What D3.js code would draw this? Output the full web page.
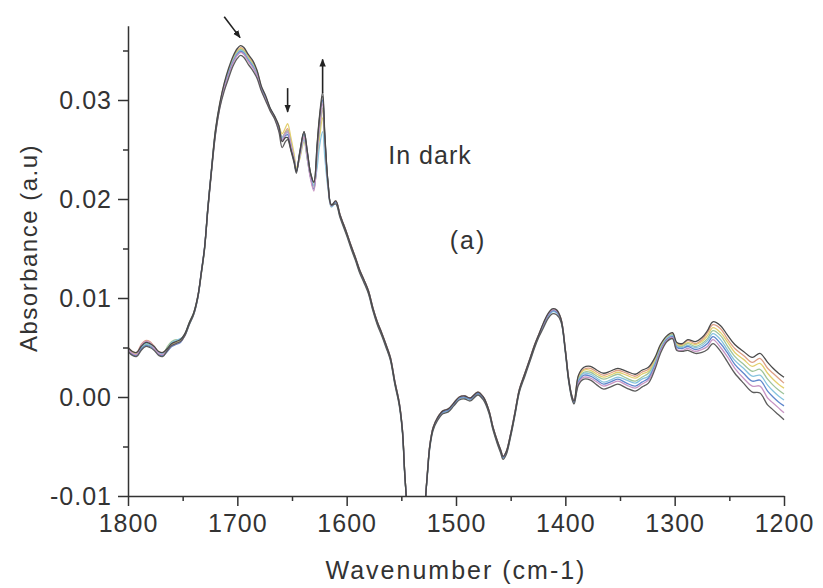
<!DOCTYPE html>
<html>
<head>
<meta charset="utf-8">
<title>Absorbance in dark (a)</title>
<script src="https://d3js.org/d3.v7.min.js"></script>
<style>
  body { margin: 0; background: #fff; }
  svg text { font-family: "Liberation Sans", Arial, sans-serif; fill: #333; }
</style>
</head>
<body>
<svg id="chart" width="823" height="588"></svg>
<script>
// wavenumbers (cm-1), shared by all spectra
const wavenumber = [
  1800,1796,1792,1788,1784,1780,1776,1772,1768,1764,1760,1756,1752,
  1748,1744,1740,1736,1733,1730,
  1727,1724,1720,1716,1712,1708,1704,1700,1697,1694,1690,1686,1682,1678,1674,1670,1666,
  1662,1659,1656,1654,1651,1648,1646,1643,1639,1636,1633,1630,1627,1625,1622,1620,1617,1614,
  1610,1606,1600,1596,1592,1588,1584,1580,1576,1572,1568,1564,1560,1556,1552,1549,1547,1545,1543,1537,
  1530,1528,1526,1524,1521,1517,1512,1507,1502,1497,1492,1487,1480,1475,1470,1466,1462,1459,1457,1454,
  1450,1446,1442,1437,1432,1428,1424,1420,1416,1412,1408,1404,1400,1397,1394,1392,
  1388,1383,1377,1371,1365,1359,1352,1344,1336,1330,1324,1318,1313,1307,1302,1298,1293,1288,1281,1275,
  1270,1265,1258,1252,1245,1237,1229,1222,1215,1210,1205,1200
];

// absorbance (a.u) of each spectrum
const spectrum1 = [
  50e-4,46e-4,45e-4,51e-4,55e-4,54e-4,51e-4,46e-4,45e-4,49e-4,54e-4,56e-4,58e-4,
  64e-4,75e-4,85e-4,103e-4,126e-4,151e-4,
  191e-4,226e-4,270e-4,297e-4,317e-4,332e-4,344e-4,352e-4,355e-4,353e-4,346e-4,340e-4,330e-4,314e-4,304e-4,292e-4,284e-4,
  274e-4,258e-4,262e-4,262e-4,250e-4,238e-4,228e-4,246e-4,268e-4,248e-4,226e-4,217e-4,256e-4,282e-4,308e-4,266e-4,216e-4,194e-4,
  198e-4,184e-4,166e-4,153e-4,141e-4,128e-4,118e-4,107e-4,90e-4,76e-4,65e-4,53e-4,40e-4,16e-4,-5e-4,-33e-4,-74e-4,-110e-4,-160e-4,-260e-4,
  -150e-4,-105e-4,-74e-4,-49e-4,-31e-4,-21e-4,-14e-4,-12e-4,-6e-4,0,1e-4,-1e-4,5e-4,0,-13e-4,-31e-4,-45e-4,-54e-4,-60e-4,-55e-4,
  -37e-4,-15e-4,8e-4,24e-4,40e-4,53e-4,64e-4,75e-4,84e-4,89e-4,88e-4,79e-4,48e-4,19e-4,1e-4,-4e-4,
  22e-4,30e-4,31e-4,27e-4,24e-4,26e-4,29e-4,26e-4,23e-4,27e-4,30e-4,40e-4,53e-4,62e-4,65e-4,55e-4,54e-4,58e-4,56e-4,60e-4,
  67e-4,76e-4,72e-4,63e-4,53e-4,46e-4,40e-4,44e-4,35e-4,29e-4,24e-4,20e-4
];
const spectrum2 = [
  50e-4,46e-4,45e-4,53e-4,57e-4,56e-4,51e-4,46e-4,45e-4,49e-4,54e-4,56e-4,58e-4,
  63e-4,74e-4,84e-4,102e-4,125e-4,150e-4,
  190e-4,225e-4,269e-4,296e-4,316e-4,330e-4,342e-4,350e-4,353e-4,351e-4,344e-4,338e-4,329e-4,313e-4,303e-4,291e-4,283e-4,
  273e-4,263e-4,268e-4,271e-4,258e-4,242e-4,230e-4,242e-4,262e-4,242e-4,222e-4,210e-4,240e-4,266e-4,290e-4,255e-4,213e-4,193e-4,
  197e-4,183e-4,165e-4,152e-4,140e-4,127e-4,117e-4,106e-4,89e-4,75e-4,64e-4,52e-4,39e-4,15e-4,-6e-4,-34e-4,-75e-4,-110e-4,-160e-4,-260e-4,
  -150e-4,-105e-4,-75e-4,-50e-4,-32e-4,-22e-4,-15e-4,-13e-4,-7e-4,-1e-4,0,-2e-4,4e-4,-1e-4,-14e-4,-32e-4,-46e-4,-55e-4,-61e-4,-56e-4,
  -38e-4,-16e-4,7e-4,23e-4,39e-4,52e-4,63e-4,73e-4,82e-4,87e-4,86e-4,78e-4,47e-4,18e-4,0,-5e-4,
  21e-4,28e-4,29e-4,25e-4,22e-4,24e-4,27e-4,24e-4,21e-4,25e-4,28e-4,38e-4,52e-4,61e-4,64e-4,54e-4,53e-4,57e-4,54e-4,58e-4,
  65e-4,73e-4,69e-4,59e-4,49e-4,42e-4,35e-4,39e-4,29e-4,24e-4,19e-4,14e-4
];
const spectrum3 = [
  49e-4,45e-4,44e-4,50e-4,54e-4,53e-4,50e-4,45e-4,44e-4,48e-4,53e-4,55e-4,57e-4,
  63e-4,74e-4,84e-4,102e-4,125e-4,150e-4,
  190e-4,225e-4,268e-4,295e-4,315e-4,329e-4,341e-4,349e-4,352e-4,350e-4,343e-4,337e-4,328e-4,312e-4,302e-4,291e-4,283e-4,
  274e-4,266e-4,272e-4,276e-4,262e-4,245e-4,232e-4,240e-4,258e-4,240e-4,224e-4,216e-4,238e-4,260e-4,282e-4,250e-4,212e-4,192e-4,
  198e-4,184e-4,166e-4,153e-4,141e-4,128e-4,118e-4,107e-4,90e-4,76e-4,65e-4,53e-4,40e-4,16e-4,-5e-4,-33e-4,-74e-4,-110e-4,-160e-4,-260e-4,
  -150e-4,-105e-4,-74e-4,-49e-4,-31e-4,-21e-4,-14e-4,-12e-4,-6e-4,0,1e-4,-1e-4,5e-4,0,-13e-4,-31e-4,-45e-4,-54e-4,-60e-4,-55e-4,
  -37e-4,-15e-4,8e-4,24e-4,40e-4,53e-4,64e-4,74e-4,83e-4,88e-4,87e-4,79e-4,48e-4,19e-4,1e-4,-4e-4,
  19e-4,27e-4,27e-4,23e-4,20e-4,22e-4,25e-4,22e-4,19e-4,23e-4,26e-4,37e-4,51e-4,60e-4,63e-4,53e-4,52e-4,55e-4,53e-4,56e-4,
  62e-4,70e-4,65e-4,56e-4,45e-4,38e-4,31e-4,34e-4,24e-4,18e-4,13e-4,9e-4
];
const spectrum4 = [
  48e-4,44e-4,43e-4,49e-4,53e-4,52e-4,49e-4,44e-4,43e-4,51e-4,56e-4,58e-4,56e-4,
  63e-4,75e-4,85e-4,102e-4,124e-4,149e-4,
  190e-4,225e-4,268e-4,295e-4,314e-4,328e-4,340e-4,348e-4,351e-4,349e-4,342e-4,336e-4,327e-4,312e-4,302e-4,291e-4,283e-4,
  271e-4,262e-4,267e-4,269e-4,256e-4,240e-4,229e-4,244e-4,264e-4,244e-4,224e-4,213e-4,245e-4,268e-4,292e-4,256e-4,214e-4,193e-4,
  197e-4,183e-4,165e-4,152e-4,140e-4,127e-4,117e-4,106e-4,89e-4,75e-4,64e-4,52e-4,39e-4,15e-4,-6e-4,-34e-4,-75e-4,-110e-4,-160e-4,-260e-4,
  -150e-4,-105e-4,-75e-4,-50e-4,-32e-4,-22e-4,-15e-4,-13e-4,-7e-4,-1e-4,0,-2e-4,4e-4,-1e-4,-14e-4,-32e-4,-46e-4,-55e-4,-61e-4,-56e-4,
  -38e-4,-16e-4,7e-4,23e-4,39e-4,52e-4,63e-4,73e-4,82e-4,87e-4,86e-4,78e-4,47e-4,18e-4,0,-5e-4,
  18e-4,25e-4,25e-4,21e-4,18e-4,20e-4,23e-4,19e-4,16e-4,20e-4,24e-4,35e-4,49e-4,60e-4,63e-4,52e-4,51e-4,54e-4,51e-4,54e-4,
  59e-4,67e-4,62e-4,52e-4,41e-4,33e-4,26e-4,28e-4,18e-4,12e-4,7e-4,3e-4
];
const spectrum5 = [
  49e-4,43e-4,42e-4,50e-4,54e-4,53e-4,50e-4,45e-4,44e-4,48e-4,55e-4,57e-4,59e-4,
  62e-4,73e-4,83e-4,101e-4,125e-4,150e-4,
  190e-4,225e-4,268e-4,295e-4,313e-4,327e-4,339e-4,347e-4,350e-4,348e-4,341e-4,335e-4,326e-4,312e-4,302e-4,291e-4,283e-4,
  270e-4,262e-4,266e-4,267e-4,255e-4,240e-4,229e-4,242e-4,260e-4,240e-4,222e-4,214e-4,232e-4,252e-4,268e-4,242e-4,210e-4,192e-4,
  196e-4,182e-4,164e-4,151e-4,139e-4,126e-4,116e-4,105e-4,88e-4,74e-4,63e-4,51e-4,38e-4,14e-4,-7e-4,-35e-4,-76e-4,-110e-4,-160e-4,-260e-4,
  -150e-4,-105e-4,-76e-4,-51e-4,-33e-4,-23e-4,-16e-4,-14e-4,-8e-4,-2e-4,-1e-4,-3e-4,3e-4,-2e-4,-15e-4,-33e-4,-47e-4,-56e-4,-62e-4,-57e-4,
  -39e-4,-17e-4,6e-4,22e-4,38e-4,51e-4,62e-4,72e-4,81e-4,86e-4,85e-4,77e-4,46e-4,17e-4,-1e-4,-6e-4,
  17e-4,24e-4,23e-4,19e-4,15e-4,17e-4,20e-4,17e-4,14e-4,18e-4,21e-4,34e-4,48e-4,59e-4,62e-4,51e-4,50e-4,52e-4,50e-4,52e-4,
  57e-4,64e-4,58e-4,48e-4,37e-4,29e-4,21e-4,22e-4,12e-4,6e-4,1e-4,-3e-4
];
const spectrum6 = [
  47e-4,43e-4,42e-4,48e-4,52e-4,51e-4,48e-4,43e-4,42e-4,46e-4,51e-4,53e-4,55e-4,
  63e-4,74e-4,84e-4,102e-4,126e-4,151e-4,
  190e-4,225e-4,267e-4,294e-4,312e-4,326e-4,338e-4,346e-4,349e-4,347e-4,340e-4,334e-4,325e-4,311e-4,301e-4,291e-4,283e-4,
  271e-4,260e-4,264e-4,265e-4,253e-4,238e-4,227e-4,245e-4,266e-4,246e-4,222e-4,210e-4,250e-4,275e-4,300e-4,262e-4,215e-4,193e-4,
  197e-4,183e-4,165e-4,152e-4,140e-4,127e-4,117e-4,106e-4,89e-4,75e-4,64e-4,52e-4,39e-4,15e-4,-6e-4,-34e-4,-75e-4,-110e-4,-160e-4,-260e-4,
  -150e-4,-105e-4,-75e-4,-50e-4,-32e-4,-22e-4,-15e-4,-13e-4,-7e-4,-1e-4,0,-2e-4,4e-4,-1e-4,-14e-4,-32e-4,-46e-4,-55e-4,-61e-4,-56e-4,
  -38e-4,-16e-4,7e-4,23e-4,39e-4,52e-4,63e-4,73e-4,82e-4,87e-4,86e-4,78e-4,47e-4,18e-4,0,-5e-4,
  15e-4,22e-4,21e-4,17e-4,13e-4,15e-4,18e-4,14e-4,11e-4,15e-4,19e-4,32e-4,47e-4,58e-4,61e-4,50e-4,49e-4,51e-4,48e-4,50e-4,
  54e-4,61e-4,54e-4,45e-4,33e-4,24e-4,16e-4,17e-4,6e-4,0,-5e-4,-9e-4
];
const spectrum7 = [
  48e-4,44e-4,43e-4,52e-4,56e-4,55e-4,49e-4,44e-4,43e-4,47e-4,52e-4,54e-4,56e-4,
  62e-4,74e-4,84e-4,102e-4,125e-4,150e-4,
  189e-4,224e-4,266e-4,293e-4,312e-4,325e-4,337e-4,345e-4,348e-4,346e-4,339e-4,333e-4,325e-4,310e-4,300e-4,290e-4,282e-4,
  269e-4,259e-4,266e-4,268e-4,255e-4,240e-4,228e-4,243e-4,263e-4,242e-4,220e-4,208e-4,246e-4,272e-4,296e-4,260e-4,214e-4,193e-4,
  198e-4,184e-4,166e-4,153e-4,141e-4,128e-4,118e-4,107e-4,90e-4,76e-4,65e-4,53e-4,40e-4,16e-4,-5e-4,-33e-4,-74e-4,-110e-4,-160e-4,-260e-4,
  -150e-4,-105e-4,-74e-4,-49e-4,-31e-4,-21e-4,-14e-4,-12e-4,-6e-4,0,1e-4,-1e-4,5e-4,0,-13e-4,-31e-4,-45e-4,-54e-4,-60e-4,-55e-4,
  -37e-4,-15e-4,8e-4,24e-4,40e-4,53e-4,64e-4,74e-4,83e-4,88e-4,87e-4,79e-4,48e-4,19e-4,1e-4,-4e-4,
  14e-4,20e-4,19e-4,15e-4,11e-4,13e-4,16e-4,12e-4,9e-4,13e-4,17e-4,30e-4,46e-4,57e-4,60e-4,48e-4,47e-4,49e-4,46e-4,48e-4,
  51e-4,58e-4,50e-4,41e-4,29e-4,19e-4,11e-4,11e-4,-1e-4,-6e-4,-11e-4,-16e-4
];
const spectrum8 = [
  46e-4,42e-4,41e-4,47e-4,51e-4,50e-4,47e-4,42e-4,41e-4,47e-4,52e-4,54e-4,56e-4,
  62e-4,73e-4,83e-4,101e-4,124e-4,149e-4,
  188e-4,223e-4,265e-4,292e-4,309e-4,322e-4,334e-4,342e-4,345e-4,343e-4,336e-4,330e-4,322e-4,309e-4,299e-4,289e-4,281e-4,
  268e-4,252e-4,258e-4,260e-4,249e-4,236e-4,226e-4,247e-4,268e-4,248e-4,226e-4,217e-4,254e-4,280e-4,304e-4,264e-4,216e-4,194e-4,
  195e-4,181e-4,163e-4,150e-4,138e-4,125e-4,115e-4,104e-4,87e-4,73e-4,62e-4,50e-4,37e-4,13e-4,-8e-4,-36e-4,-77e-4,-110e-4,-160e-4,-260e-4,
  -150e-4,-105e-4,-77e-4,-52e-4,-34e-4,-24e-4,-17e-4,-15e-4,-9e-4,-3e-4,-2e-4,-4e-4,2e-4,-3e-4,-16e-4,-34e-4,-48e-4,-57e-4,-63e-4,-58e-4,
  -40e-4,-18e-4,5e-4,21e-4,37e-4,50e-4,61e-4,70e-4,79e-4,84e-4,83e-4,76e-4,45e-4,16e-4,-2e-4,-7e-4,
  12e-4,18e-4,17e-4,12e-4,8e-4,10e-4,13e-4,9e-4,6e-4,10e-4,14e-4,28e-4,44e-4,56e-4,59e-4,47e-4,46e-4,47e-4,44e-4,45e-4,
  48e-4,54e-4,46e-4,36e-4,24e-4,14e-4,5e-4,4e-4,-8e-4,-13e-4,-18e-4,-23e-4
];

const xTicks = [1800, 1700, 1600, 1500, 1400, 1300, 1200];
const xMinorTicks = [1750, 1650, 1550, 1450, 1350, 1250];
const yTicks = [-0.01, 0, 0.01, 0.02, 0.03];
const yTickLabels = ["-0.01", "0.00", "0.01", "0.02", "0.03"];
const yMinorTicks = [-0.005, 0.005, 0.015, 0.025, 0.035];

// annotation arrows: [wavenumber, absorbance] of tail and head
const arrows = [
  { from: [1712, 0.0384], to: [1697.5, 0.0363] },
  { from: [1654, 0.0312], to: [1654, 0.0288] },
  { from: [1622, 0.0307], to: [1622, 0.0341] }
];

const spectra = [spectrum1, spectrum2, spectrum3, spectrum4, spectrum5, spectrum6, spectrum7, spectrum8];
const colors = ["#4a4a4a", "#dc9f86", "#e3cf6e", "#9fc49a", "#86c3de", "#5f86cc", "#c895c4", "#5c5c5c"];
const drawOrder = [1, 2, 3, 4, 5, 6, 7, 0];

const svg = d3.select("#chart");
const x = d3.scaleLinear().domain([1800, 1200]).range([128, 784]);
const y = d3.scaleLinear().domain([-0.01, 0.0375]).range([496, 25.75]);

svg.append("defs").append("clipPath").attr("id", "plot")
  .append("rect").attr("x", 128).attr("y", 0).attr("width", 660).attr("height", 496);

const defs = svg.select("defs");
defs.append("marker").attr("id", "head")
  .attr("viewBox", "0 0 10 10").attr("refX", 9).attr("refY", 5)
  .attr("markerWidth", 5).attr("markerHeight", 5).attr("orient", "auto")
  .append("path").attr("d", "M0,1L10,5L0,9Z").attr("fill", "#222");

const line = d3.line()
  .x((d, i) => x(wavenumber[i]))
  .y(d => y(d))
  .curve(d3.curveCatmullRom.alpha(0.5));

const plot = svg.append("g").attr("clip-path", "url(#plot)");
drawOrder.forEach(k => {
  plot.append("path")
    .attr("d", line(spectra[k]))
    .attr("fill", "none")
    .attr("stroke", colors[k])
    .attr("stroke-width", 1.3)
    .attr("stroke-linejoin", "round");
});

// axes
function styleAxis(g) {
  g.selectAll("path, line").attr("stroke", "#333").attr("stroke-width", 1.5);
  g.selectAll("text").attr("fill", "#333").style("font-size", "25px")
    .style("letter-spacing", "1px").style("font-family", '"Liberation Sans", Arial, sans-serif');
}

svg.append("g").attr("transform", "translate(0,496)")
  .call(d3.axisBottom(x).tickValues(xMinorTicks).tickSize(5).tickFormat(""))
  .call(g => g.select(".domain").remove())
  .call(styleAxis);
svg.append("g").attr("transform", "translate(128,0)")
  .call(d3.axisLeft(y).tickValues(yMinorTicks).tickSize(5).tickFormat(""))
  .call(g => g.select(".domain").remove())
  .call(styleAxis);

svg.append("g").attr("transform", "translate(0,496)")
  .call(d3.axisBottom(x).tickValues(xTicks).tickSize(10).tickSizeOuter(0).tickPadding(8).tickFormat(d3.format("d")))
  .call(styleAxis);
svg.append("g").attr("transform", "translate(128,0)")
  .call(d3.axisLeft(y).tickValues(yTicks).tickSize(10).tickSizeOuter(0).tickPadding(6)
    .tickFormat((d, i) => yTickLabels[i]))
  .call(styleAxis);

// titles
svg.append("text").attr("x", 456).attr("y", 579).attr("text-anchor", "middle")
  .style("font-size", "25px").style("letter-spacing", "2px").text("Wavenumber (cm-1)");
svg.append("text").attr("transform", "translate(37,248) rotate(-90)").attr("text-anchor", "middle")
  .style("font-size", "24px").style("letter-spacing", "1.5px").text("Absorbance (a.u)");
svg.append("text").attr("x", 430).attr("y", 164).attr("text-anchor", "middle")
  .style("font-size", "25px").style("letter-spacing", "1px").text("In dark");
svg.append("text").attr("x", 468).attr("y", 249).attr("text-anchor", "middle")
  .style("font-size", "25px").style("letter-spacing", "2px").text("(a)");

// arrows
svg.append("g").selectAll("line").data(arrows).join("line")
  .attr("x1", d => x(d.from[0])).attr("y1", d => y(d.from[1]))
  .attr("x2", d => x(d.to[0])).attr("y2", d => y(d.to[1]))
  .attr("stroke", "#222").attr("stroke-width", 1.6)
  .attr("marker-end", "url(#head)");
</script>
</body>
</html>
